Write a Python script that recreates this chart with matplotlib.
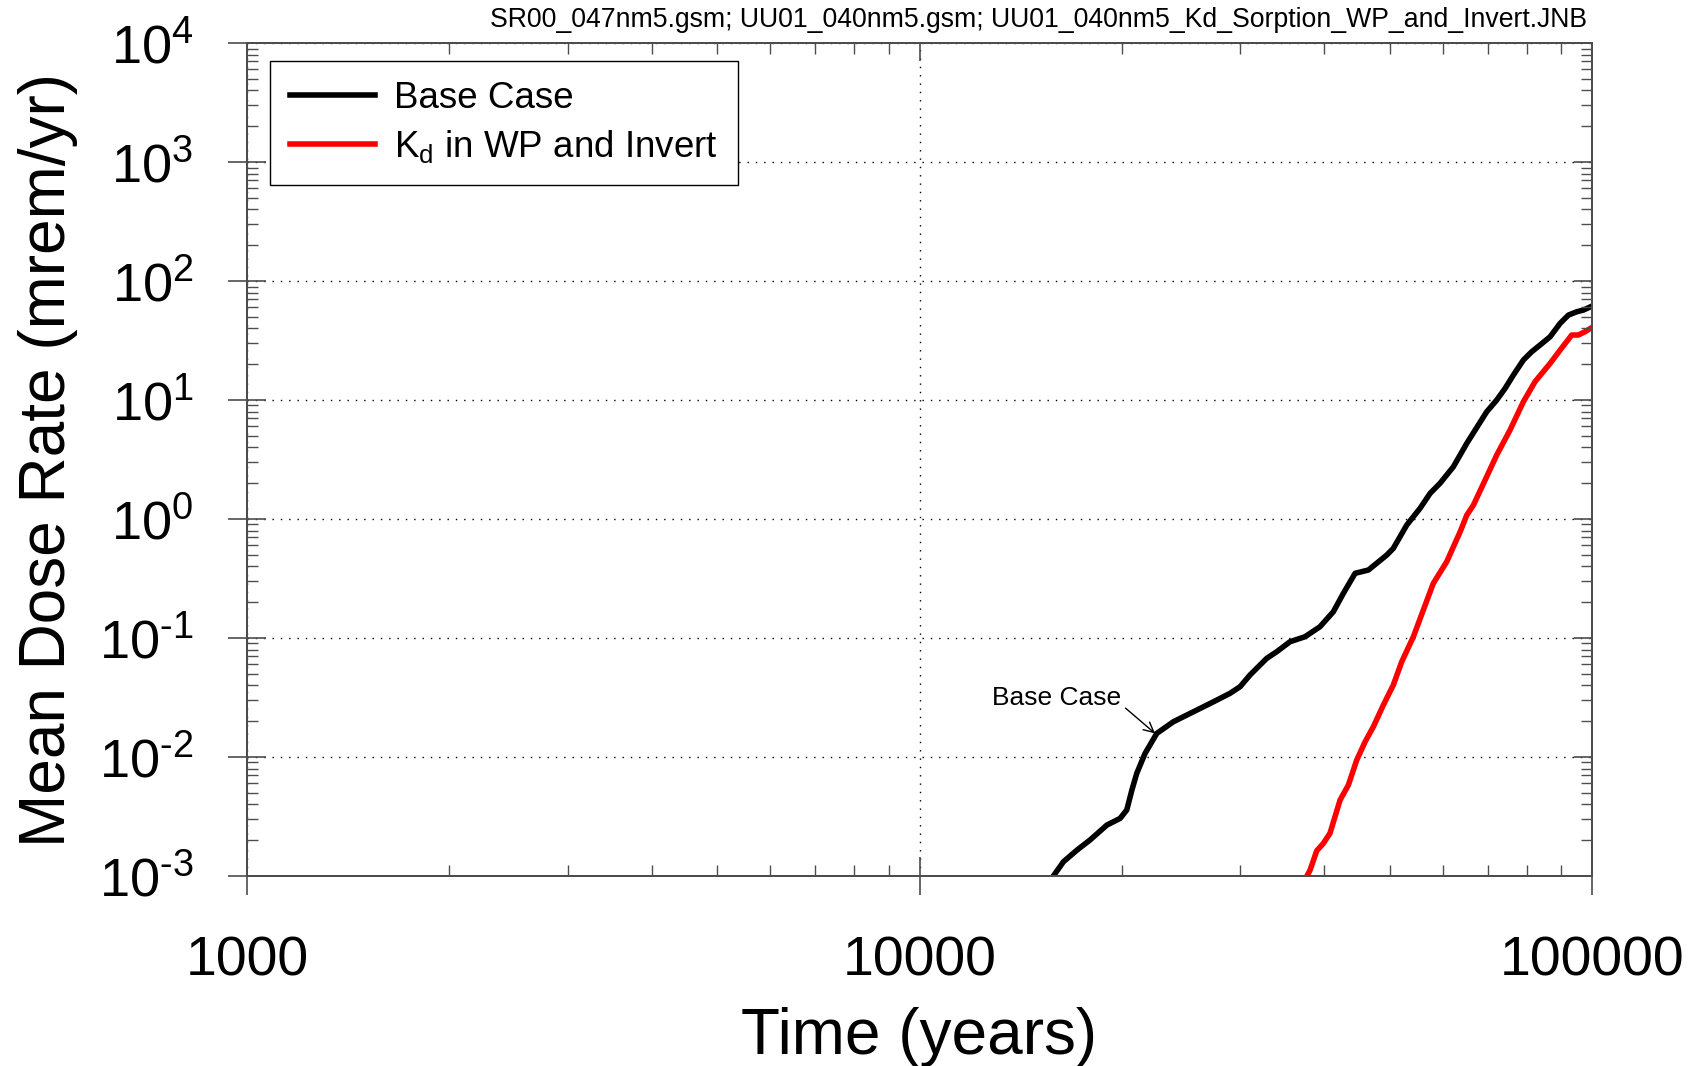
import matplotlib
matplotlib.use('Agg')
import matplotlib.pyplot as plt
from matplotlib.ticker import LogLocator, NullFormatter, FixedLocator, FixedFormatter
import numpy as np

plt.rcParams['font.family'] = ['Liberation Sans', 'DejaVu Sans']
plt.rcParams['mathtext.fontset'] = 'custom'
plt.rcParams['mathtext.rm'] = 'Liberation Sans'
plt.rcParams['mathtext.it'] = 'Liberation Sans:italic'
plt.rcParams['mathtext.bf'] = 'Liberation Sans:bold'

file_note = 'SR00_047nm5.gsm; UU01_040nm5.gsm; UU01_040nm5_Kd_Sorption_WP_and_Invert.JNB'
x_label = 'Time (years)'
y_label = 'Mean Dose Rate (mrem/yr)'
series_labels = ['Base Case', 'K$_\\mathregular{d}$ in WP and Invert']
note_label = 'Base Case'

# base case curve (years, mrem/yr)
base_time = np.array([15730, 16370, 17140, 17930, 18990, 19870, 20330, 20690, 21040, 21640,
                      22530, 23850, 25540, 27350, 28950, 29970, 31000, 32830, 33970, 35550,
                      37430, 39390, 41240, 42680, 44430, 46500, 49510, 50640, 53030, 55490,
                      57420, 59430, 62200, 65130, 69720, 72150, 74230, 76380, 79050, 81360,
                      83700, 86610, 89640, 92240, 94900, 97050, 100000])
base_dose = np.array([0.00096, 0.00132, 0.00165, 0.00201, 0.00268, 0.00305, 0.00359, 0.00528, 0.0073, 0.0107,
                      0.0158, 0.0198, 0.0240, 0.0291, 0.0343, 0.0390, 0.0489, 0.0675, 0.0767, 0.0931,
                      0.1026, 0.1244, 0.1663, 0.2375, 0.350, 0.373, 0.498, 0.567, 0.891, 1.23,
                      1.64, 2.0, 2.75, 4.33, 7.97, 10.0, 12.5, 16.2, 21.7, 25.5,
                      29.0, 34.0, 44.1, 51.8, 55.2, 57.0, 61.6])

# Kd in WP and invert
kd_time = np.array([37560, 38080, 38960, 39850, 40770, 42200, 43420, 44680, 45980, 47300,
                    48950, 50640, 52120, 54240, 56120, 58070, 60800, 63650, 65130, 66620,
                    69720, 72150, 75520, 79050, 82290, 86610, 89640, 93280, 95400, 97630, 100000])
kd_dose = np.array([0.00097, 0.00112, 0.00163, 0.00188, 0.00229, 0.00435, 0.00582, 0.00944, 0.01345, 0.0180,
                    0.0274, 0.0403, 0.0632, 0.1026, 0.172, 0.288, 0.438, 0.78, 1.08, 1.31,
                    2.27, 3.45, 5.60, 9.68, 14.3, 20.3, 26.3, 35.2, 35.2, 37.5, 40.8])

x_ticks = [1000, 10000, 100000]
x_tick_labels = ['1000', '10000', '100000']
y_exponents = [-3, -2, -1, 0, 1, 2, 3, 4]
y_tick_labels = ['$10^{\u2010%d}$' % -e if e < 0 else '$10^{%d}$' % e for e in y_exponents]

note_xy = (22400, 0.0158)
note_text_xy = (15960, 0.0274)

fig = plt.figure(figsize=(17.06, 10.66), dpi=100)
ax = fig.add_axes([0.1448, 0.1782, 0.7884, 0.7814])

ax.plot(base_time, base_dose, '-', lw=4, color='black', label=series_labels[0])
ax.plot(kd_time, kd_dose, '-', lw=4, color='#ff0000', label=series_labels[1])

ax.set_xscale('log')
ax.set_yscale('log')
ax.set_xlim(1000, 100000)
ax.set_ylim(1e-3, 1e4)

ax.xaxis.set_major_locator(FixedLocator(x_ticks))
ax.xaxis.set_major_formatter(FixedFormatter(x_tick_labels))
ax.xaxis.set_minor_locator(LogLocator(base=10, subs=range(2, 10), numticks=100))
ax.xaxis.set_minor_formatter(NullFormatter())
ax.yaxis.set_major_locator(FixedLocator([10.0 ** e for e in y_exponents]))
ax.yaxis.set_major_formatter(FixedFormatter(y_tick_labels))
ax.yaxis.set_minor_locator(LogLocator(base=10, subs=range(2, 10), numticks=100))
ax.yaxis.set_minor_formatter(NullFormatter())

ax.tick_params(which='major', direction='inout', length=27, width=1.2, color='0.3',
               top=False, right=False)
ax.tick_params(which='minor', direction='in', length=8, width=1.0, color='0.3',
               top=False, right=False)
ax.tick_params(axis='x', which='major', labelsize=40, pad=29.5)
ax.tick_params(axis='y', which='major', labelsize=39, pad=25)

ax.grid(True, which='major', linestyle=(0, (1, 5)), color='black', lw=1)

for s in ax.spines.values():
    s.set_linewidth(1.4)
    s.set_color('0.3')

# inward ticks on the right and top edges
ax_r = ax.twinx()
ax_r.set_yscale('log')
ax_r.set_ylim(ax.get_ylim())
ax_r.yaxis.set_major_locator(FixedLocator([10.0 ** e for e in y_exponents]))
ax_r.yaxis.set_minor_locator(LogLocator(base=10, subs=range(2, 10), numticks=100))
ax_r.tick_params(which='major', direction='in', length=13, width=1.2, color='0.3', labelright=False)
ax_r.tick_params(which='minor', direction='in', length=8, width=1.0, color='0.3', labelright=False)
ax_t = ax.twiny()
ax_t.set_xscale('log')
ax_t.set_xlim(ax.get_xlim())
ax_t.xaxis.set_major_locator(FixedLocator(x_ticks))
ax_t.xaxis.set_minor_locator(LogLocator(base=10, subs=range(2, 10), numticks=100))
ax_t.tick_params(which='major', direction='in', length=13, width=1.2, color='0.3', labeltop=False)
ax_t.tick_params(which='minor', direction='in', length=8, width=1.0, color='0.3', labeltop=False)
for a in (ax_r, ax_t):
    for s in a.spines.values():
        s.set_linewidth(1.4)
        s.set_color('0.3')

ax.set_xlabel(x_label, fontsize=46, labelpad=14)
ax.set_ylabel(y_label, fontsize=46, labelpad=15)

ax.annotate(note_label, xy=note_xy, xytext=note_text_xy, ha='center', va='baseline', fontsize=19,
            arrowprops=dict(arrowstyle='->', color='black', lw=1, relpos=(1.0, 0.25),
                            shrinkA=2, shrinkB=0, mutation_scale=18))

leg = ax.legend(loc='upper left', bbox_to_anchor=(0.017, 0.9785), fontsize=26.5,
                handlelength=2.3, handletextpad=0.53, borderpad=0.55, labelspacing=0.32,
                fancybox=False, framealpha=1, edgecolor='black', borderaxespad=0)
leg.get_frame().set_linewidth(1.0)
leg.set_zorder(10)

fig.text(0.9305, 0.9816, file_note, ha='right', va='center', fontsize=19.2)

fig.savefig('out.png', dpi=100)
